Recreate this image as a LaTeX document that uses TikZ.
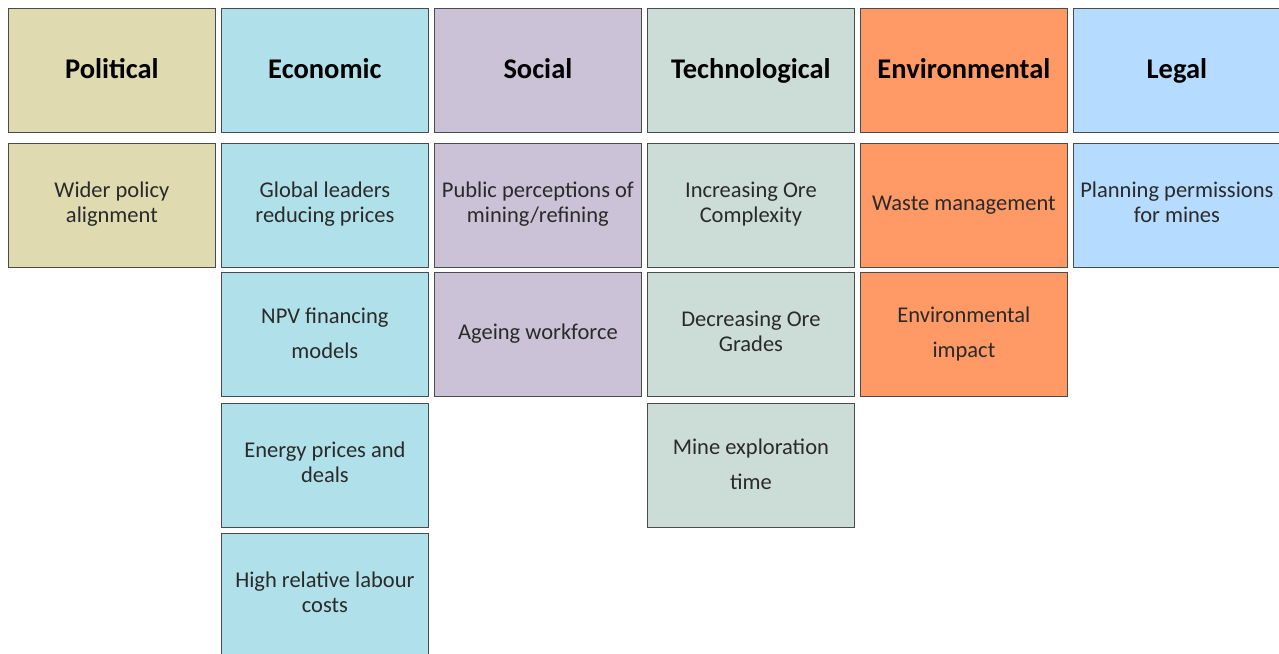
\documentclass[tikz,border=0pt]{standalone}
\usepackage{fontspec}
\setmainfont{Carlito}
\definecolor{polfill}{HTML}{E0DAB1}
\definecolor{ecofill}{HTML}{B0E1EA}
\definecolor{socfill}{HTML}{CBC2D7}
\definecolor{tecfill}{HTML}{CCDCD6}
\definecolor{envfill}{HTML}{FF9966}
\definecolor{legfill}{HTML}{B5DCFE}
\definecolor{edge}{HTML}{474C4D}
\definecolor{bodytext}{HTML}{2A2A2A}
\begin{document}
\begin{tikzpicture}[x=1pt,y=-1pt,
  cell/.style={draw=edge,line width=1.8pt,minimum width=207pt,minimum height=124pt,
    inner sep=0pt,align=center,anchor=north west},
  head/.style={cell,font=\fontsize{28.5}{40}\selectfont\bfseries,text=black,
    execute at begin node=\strut,execute at end node=\strut},
  item/.style={cell,font=\fontsize{22.5}{25}\selectfont,text=bodytext,
    execute at begin node={\rule{0pt}{18pt}},
    execute at end node={\rule[-7pt]{0pt}{7pt}}},
  loose/.style={cell,font=\fontsize{22.5}{35}\selectfont,text=bodytext,
    execute at begin node={\rule{0pt}{32pt}},
    execute at end node={\rule[-3pt]{0pt}{3pt}}},
  pol/.style={fill=polfill}, eco/.style={fill=ecofill}, soc/.style={fill=socfill},
  tec/.style={fill=tecfill}, env/.style={fill=envfill}, leg/.style={fill=legfill}]
\clip (0,0) rectangle (1279,653);
\fill[white] (0,0) rectangle (1279,653);
% column headers
\node[head,pol] (hpol) at (7.5,7.5)    {Political};
\node[head,eco] (heco) at (220.5,7.5)  {Economic};
\node[head,soc] (hsoc) at (433.5,7.5)  {Social};
\node[head,tec] (htec) at (646.5,7.5)  {Technological};
\node[head,env] (henv) at (859.5,7.5)  {Environmental};
\node[head,leg] (hleg) at (1072.5,7.5) {Legal};
% first row
\node[item,pol] (pol1) at (7.5,142.5)    {Wider policy\\alignment};
\node[item,eco] (eco1) at (220.5,142.5)  {Global leaders\\reducing prices};
\node[item,soc] (soc1) at (433.5,142.5)  {Public perceptions of\\mining/refining};
\node[item,tec] (tec1) at (646.5,142.5)  {Increasing Ore\\Complexity};
\node[item,env] (env1) at (859.5,142.5)  {Waste management};
\node[item,leg] (leg1) at (1072.5,142.5) {Planning permissions\\for mines};
% second row
\node[loose,eco] (eco2) at (220.5,271.5) {NPV financing\\models};
\node[item,soc]  (soc2) at (433.5,271.5) {Ageing workforce};
\node[item,tec]  (tec2) at (646.5,271.5) {Decreasing Ore\\Grades};
\node[loose,env] (env2) at (859.5,271.5) {Environmental\\impact};
% third row
\node[item,eco]  (eco3) at (220.5,402.5) {Energy prices and\\deals};
\node[loose,tec] (tec3) at (646.5,402.5) {Mine exploration\\time};
% fourth row, running past the lower edge
\node[item,eco]  (eco4) at (220.5,532.5) {High relative labour\\costs};
\end{tikzpicture}
\end{document}
